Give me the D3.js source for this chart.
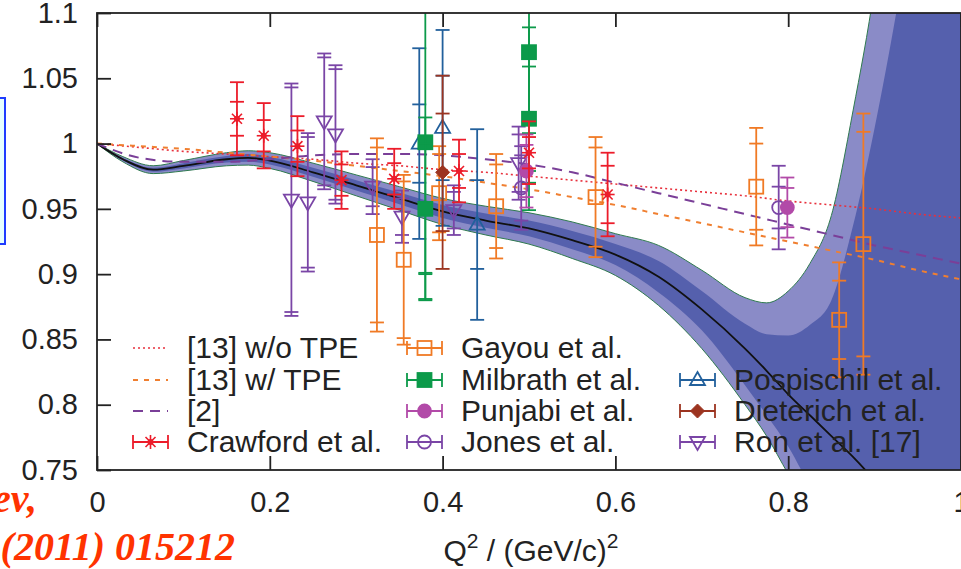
<!DOCTYPE html>
<html><head><meta charset="utf-8">
<script src="https://cdn.jsdelivr.net/npm/d3@7/dist/d3.min.js"></script>
<style>body{margin:0;background:#fff;}svg{display:block;}</style>
</head><body>
<svg id="chart" width="961" height="569"></svg>
<script>
// ---------------- data ----------------
const xTicks = [0, 0.2, 0.4, 0.6, 0.8, 1];
const xTickLabels = ["0", "0.2", "0.4", "0.6", "0.8", "1"];
const yTicks = [0.75, 0.8, 0.85, 0.9, 0.95, 1, 1.05, 1.1];
const yTickLabels = ["0.75", "0.8", "0.85", "0.9", "0.95", "1", "1.05", "1.1"];

// theory band (Q^2 grid shared by all band arrays)
const bandQ2    = [0, 0.03, 0.065, 0.1, 0.15, 0.175, 0.2, 0.25, 0.3, 0.35, 0.4, 0.45, 0.5, 0.55, 0.6, 0.65, 0.7, 0.75, 0.775, 0.8, 0.825, 0.85, 0.875, 0.9, 0.925, 0.95, 1.0];
const bandCenter= [1.0, 0.988, 0.980, 0.983, 0.988, 0.989, 0.987, 0.978, 0.968, 0.958, 0.948, 0.941, 0.935, 0.926, 0.915, 0.898, 0.873, 0.843, 0.826, 0.808, 0.792, 0.776, 0.760, 0.742, 0.722, 0.70, 0.66];
const darkHi    = [1.0, 0.989, 0.9815, 0.985, 0.9905, 0.992, 0.990, 0.9815, 0.972, 0.9625, 0.953, 0.9465, 0.941, 0.933, 0.923, 0.910, 0.887, 0.862, 0.854, 0.853, 0.861, 0.880, 0.937, 1.012, 1.10, 1.2, 1.45];
const darkLo    = [1.0, 0.987, 0.9785, 0.981, 0.9855, 0.986, 0.984, 0.9745, 0.964, 0.9535, 0.943, 0.9355, 0.929, 0.919, 0.907, 0.886, 0.857, 0.815, 0.792, 0.768, 0.738, 0.71, 0.68, 0.65, 0.62, 0.59, 0.5];
const lightHi   = [1.0, 0.990, 0.983, 0.987, 0.993, 0.9945, 0.993, 0.985, 0.976, 0.967, 0.958, 0.952, 0.947, 0.940, 0.931, 0.922, 0.903, 0.882, 0.878, 0.887, 0.908, 0.945, 1.025, 1.12, 1.25, 1.35, 1.6];
const lightLo   = [1.0, 0.986, 0.977, 0.979, 0.983, 0.9835, 0.981, 0.971, 0.960, 0.949, 0.938, 0.930, 0.923, 0.912, 0.899, 0.876, 0.843, 0.800, 0.776, 0.747, 0.72, 0.69, 0.66, 0.63, 0.6, 0.57, 0.5];

// theory lines
const lineQ2      = [0, 0.05, 0.1, 0.15, 0.2, 0.25, 0.3, 0.35, 0.4, 0.45, 0.5, 0.55, 0.6, 0.65, 0.7, 0.75, 0.8, 0.85, 0.9, 0.95, 1.0];
const woTPE       = [1.0, 0.997, 0.994, 0.992, 0.990, 0.988, 0.985, 0.983, 0.980, 0.978, 0.975, 0.972, 0.969, 0.966, 0.963, 0.960, 0.956, 0.953, 0.950, 0.946, 0.943];
const wTPE        = [1.0, 0.998, 0.996, 0.993, 0.990, 0.987, 0.983, 0.979, 0.975, 0.970, 0.965, 0.959, 0.953, 0.946, 0.939, 0.932, 0.925, 0.918, 0.911, 0.903, 0.896];
const ref2        = [1.0, 0.989, 0.986, 0.986, 0.988, 0.991, 0.992, 0.992, 0.991, 0.988, 0.984, 0.978, 0.970, 0.962, 0.954, 0.946, 0.938, 0.930, 0.922, 0.915, 0.908];

// measurements: [Q2, ratio, stat error, total error]
const crawford   = [[0.162,1.019,0.013,0.028],[0.193,1.006,0.012,0.025],[0.232,0.998,0.012,0.023],[0.283,0.972,0.012,0.022],[0.344,0.973,0.012,0.023],[0.419,0.979,0.013,0.024],[0.500,0.993,0.012,0.024],[0.591,0.961,0.022,0.032]];
const gayou      = [[0.324,0.930,0.067,0.074],[0.355,0.911,0.060,0.065],[0.396,0.962,0.030,0.036],[0.462,0.952,0.032,0.040],[0.577,0.959,0.038,0.046],[0.763,0.967,0.033,0.045],[0.859,0.865,0.030,0.044],[0.887,0.923,0.086,0.100]];
const milbrath   = [[0.380,1.001,0.10,0.12],[0.380,0.950,0.05,0.07],[0.500,1.070,0.062,0.10],[0.500,1.019,0.04,0.07]];
const punjabi    = [[0.497,0.979,0.020,0.028],[0.799,0.951,0.015,0.023]];
const jones      = [[0.491,0.966,0.025,0.032],[0.789,0.951,0.016,0.032]];
const pospischil = [[0.373,1.000,0.030,0.073],[0.400,1.012,0.040,0.075],[0.440,0.938,0.034,0.073]];
const dieterich  = [[0.400,0.978,0.045,0.074]];
const ron        = [[0.225,0.957,0.086,0.089],[0.244,0.955,0.050,0.053],[0.263,1.017,0.049,0.052],[0.276,1.007,0.050,0.053],[0.319,0.967,0.015,0.021],[0.353,0.944,0.014,0.020],[0.413,0.949,0.014,0.019],[0.488,0.985,0.022,0.028]];

const lineLabels = ["[13] w/o TPE", "[13] w/ TPE", "[2]"];
const seriesLabels = ["Crawford et al.", "Gayou et al.", "Milbrath et al.", "Punjabi et al.", "Jones et al.", "Pospischil et al.", "Dieterich et al.", "Ron et al. [17]"];
const xTitle = ["Q", "2", " / (GeV/c)", "2"];
const noteLines = ["ev,", "(2011) 015212"];

// ---------------- drawing ----------------
const svg = d3.select("#chart");
const FONT = "'Liberation Sans', Arial, Helvetica, sans-serif";
const x = d3.scaleLinear().domain([0, 1]).range([97, 961]);
const y = d3.scaleLinear().domain([0.75, 1.1]).range([470, 13]);

svg.append("defs").append("clipPath").attr("id", "plotclip")
  .append("rect").attr("x", x(0)).attr("y", y(1.1)).attr("width", x(1) - x(0)).attr("height", y(0.75) - y(1.1));

// blue box remnant at left edge
svg.append("rect").attr("x", -10).attr("y", 98).attr("width", 15).attr("height", 146)
  .attr("fill", "#e6ffff").attr("stroke", "#1f3cff").attr("stroke-width", 2);

const plot = svg.append("g").attr("clip-path", "url(#plotclip)");

const bandRows = bandQ2.map((q, i) => ({q, c: bandCenter[i], dh: darkHi[i], dl: darkLo[i], lh: lightHi[i], ll: lightLo[i]}));
const curve = d3.curveMonotoneX;
plot.append("path").datum(bandRows)
  .attr("d", d3.area().curve(curve).x(d => x(d.q)).y0(d => y(d.ll)).y1(d => y(d.lh)))
  .attr("fill", "#8a8bc7");
plot.append("path").datum(bandRows)
  .attr("d", d3.area().curve(curve).x(d => x(d.q)).y0(d => y(d.dl)).y1(d => y(d.dh)))
  .attr("fill", "#5560ad");
["lh", "ll"].forEach(k => {
  plot.append("path").datum(bandRows)
    .attr("d", d3.line().curve(curve).x(d => x(d.q)).y(d => y(d[k])))
    .attr("fill", "none").attr("stroke", "#2f7a4f").attr("stroke-width", 1);
});
plot.append("path").datum(bandRows)
  .attr("d", d3.line().curve(curve).x(d => x(d.q)).y(d => y(d.c)))
  .attr("fill", "none").attr("stroke", "#111").attr("stroke-width", 1.8);

const lineStyles = [
  {vals: woTPE, color: "#e8303c", dash: "2,3", w: 1.6},
  {vals: wTPE, color: "#f07f30", dash: "5,6", w: 2},
  {vals: ref2, color: "#7a3f98", dash: "10,7", w: 2}
];
lineStyles.forEach(s => {
  plot.append("path").datum(lineQ2.map((q, i) => [q, s.vals[i]]))
    .attr("d", d3.line().curve(d3.curveMonotoneX).x(d => x(d[0])).y(d => y(d[1])))
    .attr("fill", "none").attr("stroke", s.color).attr("stroke-dasharray", s.dash).attr("stroke-width", s.w);
});

// markers
function drawMarker(g, type, color, cx, cy) {
  const s = 7;
  if (type === "star") {
    const p = g.append("g").attr("stroke", color).attr("stroke-width", 1.6);
    p.append("line").attr("x1", cx - s).attr("x2", cx + s).attr("y1", cy).attr("y2", cy);
    p.append("line").attr("x1", cx).attr("x2", cx).attr("y1", cy - s).attr("y2", cy + s);
    p.append("line").attr("x1", cx - 5).attr("x2", cx + 5).attr("y1", cy - 5).attr("y2", cy + 5);
    p.append("line").attr("x1", cx - 5).attr("x2", cx + 5).attr("y1", cy + 5).attr("y2", cy - 5);
    g.append("circle").attr("cx", cx).attr("cy", cy).attr("r", 3).attr("fill", color);
  } else if (type === "osquare" || type === "fsquare") {
    g.append("rect").attr("x", cx - s).attr("y", cy - s).attr("width", 2 * s).attr("height", 2 * s)
      .attr("fill", type === "fsquare" ? color : "none").attr("stroke", color).attr("stroke-width", 1.8);
  } else if (type === "ocircle" || type === "fcircle") {
    g.append("circle").attr("cx", cx).attr("cy", cy).attr("r", 6.5)
      .attr("fill", type === "fcircle" ? color : "none").attr("stroke", color).attr("stroke-width", 1.8);
  } else if (type === "otri") {
    g.append("path").attr("d", `M${cx},${cy - 8}L${cx + 7.5},${cy + 5}L${cx - 7.5},${cy + 5}Z`)
      .attr("fill", "none").attr("stroke", color).attr("stroke-width", 1.8);
  } else if (type === "otridown") {
    g.append("path").attr("d", `M${cx},${cy + 8}L${cx + 7.5},${cy - 5}L${cx - 7.5},${cy - 5}Z`)
      .attr("fill", "none").attr("stroke", color).attr("stroke-width", 1.8);
  } else if (type === "fdiamond") {
    g.append("path").attr("d", `M${cx},${cy - 7}L${cx + 7},${cy}L${cx},${cy + 7}L${cx - 7},${cy}Z`)
      .attr("fill", color).attr("stroke", color).attr("stroke-width", 1);
  }
}

const series = [
  {data: ron, color: "#7a45a6", marker: "otridown"},
  {data: gayou, color: "#f07a25", marker: "osquare"},
  {data: pospischil, color: "#22609c", marker: "otri"},
  {data: dieterich, color: "#9c3420", marker: "fdiamond"},
  {data: milbrath, color: "#0c9a4a", marker: "fsquare"},
  {data: jones, color: "#7a45a6", marker: "ocircle"},
  {data: punjabi, color: "#b24aa8", marker: "fcircle"},
  {data: crawford, color: "#ec1c2a", marker: "star"}
];
const capW = 7;
series.forEach(s => {
  s.data.forEach(d => {
    const g = plot.append("g");
    const cx = x(d[0]);
    g.append("line").attr("x1", cx).attr("x2", cx).attr("y1", y(d[1] - d[3])).attr("y2", y(d[1] + d[3]))
      .attr("stroke", s.color).attr("stroke-width", 1.8);
    [d[1] - d[3], d[1] + d[3], d[1] - d[2], d[1] + d[2]].forEach(v => {
      g.append("line").attr("x1", cx - capW).attr("x2", cx + capW).attr("y1", y(v)).attr("y2", y(v))
        .attr("stroke", s.color).attr("stroke-width", 1.8);
    });
    drawMarker(g, s.marker, s.color, cx, y(d[1]));
  });
});

// legend
const legend = svg.append("g");
const colX = [133, 407, 680];
const rowY = [348, 380, 411, 442];
const legendItems = [
  {col: 0, row: 0, label: lineLabels[0], line: lineStyles[0]},
  {col: 0, row: 1, label: lineLabels[1], line: lineStyles[1]},
  {col: 0, row: 2, label: lineLabels[2], line: lineStyles[2]},
  {col: 0, row: 3, label: seriesLabels[0], s: series[7]},
  {col: 1, row: 0, label: seriesLabels[1], s: series[1]},
  {col: 1, row: 1, label: seriesLabels[2], s: series[4]},
  {col: 1, row: 2, label: seriesLabels[3], s: series[6]},
  {col: 1, row: 3, label: seriesLabels[4], s: series[5]},
  {col: 2, row: 1, label: seriesLabels[5], s: series[2]},
  {col: 2, row: 2, label: seriesLabels[6], s: series[3]},
  {col: 2, row: 3, label: seriesLabels[7], s: series[0]}
];
legendItems.forEach(it => {
  const x0 = colX[it.col], yy = rowY[it.row];
  if (it.line) {
    legend.append("line").attr("x1", x0).attr("x2", x0 + 35).attr("y1", yy).attr("y2", yy)
      .attr("stroke", it.line.color).attr("stroke-dasharray", it.line.dash).attr("stroke-width", it.line.w);
  } else {
    const c = it.s.color;
    legend.append("line").attr("x1", x0).attr("x2", x0 + 35).attr("y1", yy).attr("y2", yy).attr("stroke", c).attr("stroke-width", 1.8);
    [x0, x0 + 35].forEach(xx => legend.append("line").attr("x1", xx).attr("x2", xx).attr("y1", yy - 7).attr("y2", yy + 7).attr("stroke", c).attr("stroke-width", 1.8));
    drawMarker(legend, it.s.marker, c, x0 + 17.5, yy);
  }
  legend.append("text").attr("x", x0 + 54).attr("y", yy + 10).text(it.label)
    .attr("font-family", FONT).attr("font-size", 30).attr("fill", "#222");
});

// axes
const axL = svg.append("g").attr("transform", `translate(${x(0)},0)`)
  .call(d3.axisLeft(y).tickValues(yTicks).tickFormat((d, i) => yTickLabels[i]).tickSize(-14).tickPadding(19));
const axB = svg.append("g").attr("transform", `translate(0,${y(0.75)})`)
  .call(d3.axisBottom(x).tickValues(xTicks).tickFormat((d, i) => xTickLabels[i]).tickSize(-14).tickPadding(21));
const axT = svg.append("g").attr("transform", `translate(0,${y(1.1)})`)
  .call(d3.axisTop(x).tickValues(xTicks).tickFormat("").tickSize(-14));
[axL, axB, axT].forEach(a => {
  a.select(".domain").remove();
  a.selectAll(".tick line").attr("stroke", "#222").attr("stroke-width", 1.8);
  a.selectAll("text").attr("font-family", FONT).attr("font-size", 29).attr("fill", "#222");
});
svg.append("rect").attr("x", x(0)).attr("y", y(1.1)).attr("width", x(1) - x(0)).attr("height", y(0.75) - y(1.1))
  .attr("fill", "none").attr("stroke", "#222").attr("stroke-width", 1.8);

// x-axis title
const xt = svg.append("text").attr("x", x(0.5) + 2).attr("y", 561).attr("text-anchor", "middle")
  .attr("font-family", FONT).attr("font-size", 30).attr("fill", "#222");
xt.append("tspan").text(xTitle[0]);
xt.append("tspan").attr("dy", -13).attr("font-size", 21).text(xTitle[1]);
xt.append("tspan").attr("dy", 13).text(xTitle[2]);
xt.append("tspan").attr("dy", -13).attr("font-size", 21).text(xTitle[3]);

// overlaid citation text
svg.append("text").attr("x", 37).attr("y", 512).attr("text-anchor", "end").text(noteLines[0])
  .attr("font-family", "'Liberation Serif', 'Times New Roman', serif").attr("font-weight", "bold").attr("font-style", "italic")
  .attr("font-size", 40).attr("fill", "#ff3300");
svg.append("text").attr("x", 235).attr("y", 560).attr("text-anchor", "end").text(noteLines[1])
  .attr("font-family", "'Liberation Serif', 'Times New Roman', serif").attr("font-weight", "bold").attr("font-style", "italic")
  .attr("font-size", 40).attr("fill", "#ff3300");
</script>
</body></html>
